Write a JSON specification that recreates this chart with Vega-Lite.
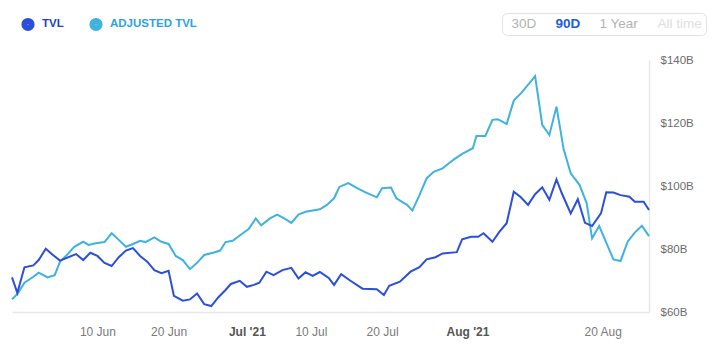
{
  "$schema": "https://vega.github.io/schema/vega-lite/v6.json",
  "width": 637,
  "height": 252,
  "autosize": {"type": "none"},
  "padding": {"left": 12, "top": 60, "right": 67, "bottom": 50},
  "background": "white",
  "config": {"view": {"stroke": null}, "font": "Liberation Sans"},
  "datasets": {
    "tvl": [
      {"date": "2021-05-29T00:00", "series": "ADJUSTED TVL", "value": 64.0},
      {"date": "2021-05-29T18:00", "series": "ADJUSTED TVL", "value": 65.7},
      {"date": "2021-05-30T18:00", "series": "ADJUSTED TVL", "value": 69.3},
      {"date": "2021-06-01T00:00", "series": "ADJUSTED TVL", "value": 71.2},
      {"date": "2021-06-01T18:00", "series": "ADJUSTED TVL", "value": 72.5},
      {"date": "2021-06-03T00:00", "series": "ADJUSTED TVL", "value": 71.0},
      {"date": "2021-06-04T00:00", "series": "ADJUSTED TVL", "value": 71.7},
      {"date": "2021-06-04T18:00", "series": "ADJUSTED TVL", "value": 76.0},
      {"date": "2021-06-05T12:00", "series": "ADJUSTED TVL", "value": 77.6},
      {"date": "2021-06-06T18:00", "series": "ADJUSTED TVL", "value": 80.7},
      {"date": "2021-06-08T00:00", "series": "ADJUSTED TVL", "value": 82.3},
      {"date": "2021-06-08T18:00", "series": "ADJUSTED TVL", "value": 81.3},
      {"date": "2021-06-09T18:00", "series": "ADJUSTED TVL", "value": 81.8},
      {"date": "2021-06-11T00:00", "series": "ADJUSTED TVL", "value": 82.2},
      {"date": "2021-06-12T00:00", "series": "ADJUSTED TVL", "value": 85.0},
      {"date": "2021-06-13T00:00", "series": "ADJUSTED TVL", "value": 82.9},
      {"date": "2021-06-14T00:00", "series": "ADJUSTED TVL", "value": 80.7},
      {"date": "2021-06-15T00:00", "series": "ADJUSTED TVL", "value": 81.6},
      {"date": "2021-06-16T00:00", "series": "ADJUSTED TVL", "value": 82.6},
      {"date": "2021-06-16T18:00", "series": "ADJUSTED TVL", "value": 82.2},
      {"date": "2021-06-18T00:00", "series": "ADJUSTED TVL", "value": 83.7},
      {"date": "2021-06-19T00:00", "series": "ADJUSTED TVL", "value": 82.3},
      {"date": "2021-06-20T00:00", "series": "ADJUSTED TVL", "value": 81.6},
      {"date": "2021-06-21T00:00", "series": "ADJUSTED TVL", "value": 77.8},
      {"date": "2021-06-22T00:00", "series": "ADJUSTED TVL", "value": 76.5},
      {"date": "2021-06-23T00:00", "series": "ADJUSTED TVL", "value": 73.6},
      {"date": "2021-06-24T00:00", "series": "ADJUSTED TVL", "value": 75.6},
      {"date": "2021-06-25T00:00", "series": "ADJUSTED TVL", "value": 78.1},
      {"date": "2021-06-26T06:00", "series": "ADJUSTED TVL", "value": 78.8},
      {"date": "2021-06-27T06:00", "series": "ADJUSTED TVL", "value": 79.5},
      {"date": "2021-06-28T00:00", "series": "ADJUSTED TVL", "value": 82.2},
      {"date": "2021-06-29T00:00", "series": "ADJUSTED TVL", "value": 82.6},
      {"date": "2021-06-30T00:00", "series": "ADJUSTED TVL", "value": 84.3},
      {"date": "2021-07-01T06:00", "series": "ADJUSTED TVL", "value": 86.3},
      {"date": "2021-07-02T06:00", "series": "ADJUSTED TVL", "value": 89.7},
      {"date": "2021-07-03T00:00", "series": "ADJUSTED TVL", "value": 87.5},
      {"date": "2021-07-04T06:00", "series": "ADJUSTED TVL", "value": 89.7},
      {"date": "2021-07-05T06:00", "series": "ADJUSTED TVL", "value": 90.9},
      {"date": "2021-07-06T06:00", "series": "ADJUSTED TVL", "value": 89.7},
      {"date": "2021-07-07T06:00", "series": "ADJUSTED TVL", "value": 88.3},
      {"date": "2021-07-08T06:00", "series": "ADJUSTED TVL", "value": 90.9},
      {"date": "2021-07-09T06:00", "series": "ADJUSTED TVL", "value": 91.8},
      {"date": "2021-07-11T06:00", "series": "ADJUSTED TVL", "value": 92.6},
      {"date": "2021-07-12T06:00", "series": "ADJUSTED TVL", "value": 94.0},
      {"date": "2021-07-13T06:00", "series": "ADJUSTED TVL", "value": 96.1},
      {"date": "2021-07-14T00:00", "series": "ADJUSTED TVL", "value": 99.7},
      {"date": "2021-07-15T06:00", "series": "ADJUSTED TVL", "value": 100.9},
      {"date": "2021-07-16T12:00", "series": "ADJUSTED TVL", "value": 99.3},
      {"date": "2021-07-17T18:00", "series": "ADJUSTED TVL", "value": 97.9},
      {"date": "2021-07-19T06:00", "series": "ADJUSTED TVL", "value": 96.4},
      {"date": "2021-07-20T00:00", "series": "ADJUSTED TVL", "value": 99.3},
      {"date": "2021-07-21T06:00", "series": "ADJUSTED TVL", "value": 99.5},
      {"date": "2021-07-22T00:00", "series": "ADJUSTED TVL", "value": 96.1},
      {"date": "2021-07-23T12:00", "series": "ADJUSTED TVL", "value": 94.0},
      {"date": "2021-07-24T06:00", "series": "ADJUSTED TVL", "value": 92.2},
      {"date": "2021-07-25T06:00", "series": "ADJUSTED TVL", "value": 97.1},
      {"date": "2021-07-26T06:00", "series": "ADJUSTED TVL", "value": 102.4},
      {"date": "2021-07-27T06:00", "series": "ADJUSTED TVL", "value": 104.5},
      {"date": "2021-07-28T12:00", "series": "ADJUSTED TVL", "value": 105.6},
      {"date": "2021-07-29T06:00", "series": "ADJUSTED TVL", "value": 107.0},
      {"date": "2021-07-30T06:00", "series": "ADJUSTED TVL", "value": 108.7},
      {"date": "2021-07-31T06:00", "series": "ADJUSTED TVL", "value": 110.2},
      {"date": "2021-08-01T18:00", "series": "ADJUSTED TVL", "value": 112.0},
      {"date": "2021-08-02T06:00", "series": "ADJUSTED TVL", "value": 115.9},
      {"date": "2021-08-03T12:00", "series": "ADJUSTED TVL", "value": 115.9},
      {"date": "2021-08-04T12:00", "series": "ADJUSTED TVL", "value": 121.0},
      {"date": "2021-08-05T06:00", "series": "ADJUSTED TVL", "value": 121.2},
      {"date": "2021-08-06T12:00", "series": "ADJUSTED TVL", "value": 119.7},
      {"date": "2021-08-07T12:00", "series": "ADJUSTED TVL", "value": 127.1},
      {"date": "2021-08-08T12:00", "series": "ADJUSTED TVL", "value": 129.4},
      {"date": "2021-08-09T12:00", "series": "ADJUSTED TVL", "value": 132.1},
      {"date": "2021-08-10T12:00", "series": "ADJUSTED TVL", "value": 134.9},
      {"date": "2021-08-11T12:00", "series": "ADJUSTED TVL", "value": 119.4},
      {"date": "2021-08-12T12:00", "series": "ADJUSTED TVL", "value": 116.2},
      {"date": "2021-08-13T12:00", "series": "ADJUSTED TVL", "value": 125.2},
      {"date": "2021-08-14T12:00", "series": "ADJUSTED TVL", "value": 111.7},
      {"date": "2021-08-15T12:00", "series": "ADJUSTED TVL", "value": 104.0},
      {"date": "2021-08-16T18:00", "series": "ADJUSTED TVL", "value": 100.3},
      {"date": "2021-08-17T18:00", "series": "ADJUSTED TVL", "value": 94.5},
      {"date": "2021-08-18T12:00", "series": "ADJUSTED TVL", "value": 83.4},
      {"date": "2021-08-19T12:00", "series": "ADJUSTED TVL", "value": 87.3},
      {"date": "2021-08-20T18:00", "series": "ADJUSTED TVL", "value": 80.7},
      {"date": "2021-08-21T12:00", "series": "ADJUSTED TVL", "value": 76.7},
      {"date": "2021-08-22T12:00", "series": "ADJUSTED TVL", "value": 76.2},
      {"date": "2021-08-23T12:00", "series": "ADJUSTED TVL", "value": 82.3},
      {"date": "2021-08-24T12:00", "series": "ADJUSTED TVL", "value": 85.2},
      {"date": "2021-08-25T12:00", "series": "ADJUSTED TVL", "value": 87.4},
      {"date": "2021-08-26T12:00", "series": "ADJUSTED TVL", "value": 84.1},
      {"date": "2021-05-29T00:00", "series": "TVL", "value": 71.0},
      {"date": "2021-05-29T18:00", "series": "TVL", "value": 66.1},
      {"date": "2021-05-30T18:00", "series": "TVL", "value": 74.2},
      {"date": "2021-06-01T00:00", "series": "TVL", "value": 74.8},
      {"date": "2021-06-01T18:00", "series": "TVL", "value": 76.5},
      {"date": "2021-06-02T18:00", "series": "TVL", "value": 80.1},
      {"date": "2021-06-03T18:00", "series": "TVL", "value": 78.1},
      {"date": "2021-06-04T18:00", "series": "TVL", "value": 76.3},
      {"date": "2021-06-07T00:00", "series": "TVL", "value": 78.4},
      {"date": "2021-06-08T00:00", "series": "TVL", "value": 76.5},
      {"date": "2021-06-09T00:00", "series": "TVL", "value": 78.8},
      {"date": "2021-06-10T00:00", "series": "TVL", "value": 77.8},
      {"date": "2021-06-11T00:00", "series": "TVL", "value": 75.6},
      {"date": "2021-06-12T00:00", "series": "TVL", "value": 74.6},
      {"date": "2021-06-13T00:00", "series": "TVL", "value": 77.4},
      {"date": "2021-06-14T00:00", "series": "TVL", "value": 79.5},
      {"date": "2021-06-15T00:00", "series": "TVL", "value": 80.3},
      {"date": "2021-06-16T00:00", "series": "TVL", "value": 77.8},
      {"date": "2021-06-17T00:00", "series": "TVL", "value": 76.0},
      {"date": "2021-06-18T00:00", "series": "TVL", "value": 73.3},
      {"date": "2021-06-19T00:00", "series": "TVL", "value": 72.3},
      {"date": "2021-06-20T00:00", "series": "TVL", "value": 73.1},
      {"date": "2021-06-20T18:00", "series": "TVL", "value": 65.1},
      {"date": "2021-06-22T00:00", "series": "TVL", "value": 63.6},
      {"date": "2021-06-23T00:00", "series": "TVL", "value": 64.0},
      {"date": "2021-06-24T00:00", "series": "TVL", "value": 65.9},
      {"date": "2021-06-25T00:00", "series": "TVL", "value": 62.5},
      {"date": "2021-06-26T00:00", "series": "TVL", "value": 61.9},
      {"date": "2021-06-27T00:00", "series": "TVL", "value": 64.7},
      {"date": "2021-06-28T00:00", "series": "TVL", "value": 67.0},
      {"date": "2021-06-28T18:00", "series": "TVL", "value": 68.9},
      {"date": "2021-06-30T00:00", "series": "TVL", "value": 69.9},
      {"date": "2021-07-01T00:00", "series": "TVL", "value": 68.0},
      {"date": "2021-07-02T00:00", "series": "TVL", "value": 68.6},
      {"date": "2021-07-02T18:00", "series": "TVL", "value": 69.3},
      {"date": "2021-07-03T18:00", "series": "TVL", "value": 72.8},
      {"date": "2021-07-04T18:00", "series": "TVL", "value": 71.7},
      {"date": "2021-07-06T00:00", "series": "TVL", "value": 73.3},
      {"date": "2021-07-07T06:00", "series": "TVL", "value": 74.0},
      {"date": "2021-07-08T06:00", "series": "TVL", "value": 70.6},
      {"date": "2021-07-09T06:00", "series": "TVL", "value": 72.6},
      {"date": "2021-07-10T06:00", "series": "TVL", "value": 71.5},
      {"date": "2021-07-11T06:00", "series": "TVL", "value": 72.7},
      {"date": "2021-07-12T12:00", "series": "TVL", "value": 70.8},
      {"date": "2021-07-13T06:00", "series": "TVL", "value": 68.6},
      {"date": "2021-07-14T06:00", "series": "TVL", "value": 72.0},
      {"date": "2021-07-15T12:00", "series": "TVL", "value": 70.0},
      {"date": "2021-07-17T06:00", "series": "TVL", "value": 67.4},
      {"date": "2021-07-19T06:00", "series": "TVL", "value": 67.2},
      {"date": "2021-07-20T06:00", "series": "TVL", "value": 65.4},
      {"date": "2021-07-21T00:00", "series": "TVL", "value": 68.3},
      {"date": "2021-07-22T12:00", "series": "TVL", "value": 69.6},
      {"date": "2021-07-24T00:00", "series": "TVL", "value": 72.8},
      {"date": "2021-07-25T06:00", "series": "TVL", "value": 74.2},
      {"date": "2021-07-26T06:00", "series": "TVL", "value": 76.7},
      {"date": "2021-07-27T12:00", "series": "TVL", "value": 77.4},
      {"date": "2021-07-28T12:00", "series": "TVL", "value": 78.6},
      {"date": "2021-07-30T12:00", "series": "TVL", "value": 79.0},
      {"date": "2021-07-31T06:00", "series": "TVL", "value": 83.1},
      {"date": "2021-08-01T12:00", "series": "TVL", "value": 83.9},
      {"date": "2021-08-02T12:00", "series": "TVL", "value": 83.9},
      {"date": "2021-08-03T06:00", "series": "TVL", "value": 85.0},
      {"date": "2021-08-04T12:00", "series": "TVL", "value": 82.3},
      {"date": "2021-08-05T12:00", "series": "TVL", "value": 85.5},
      {"date": "2021-08-06T12:00", "series": "TVL", "value": 88.2},
      {"date": "2021-08-07T12:00", "series": "TVL", "value": 98.2},
      {"date": "2021-08-08T12:00", "series": "TVL", "value": 96.4},
      {"date": "2021-08-09T12:00", "series": "TVL", "value": 94.0},
      {"date": "2021-08-10T12:00", "series": "TVL", "value": 97.4},
      {"date": "2021-08-11T12:00", "series": "TVL", "value": 99.6},
      {"date": "2021-08-12T12:00", "series": "TVL", "value": 95.6},
      {"date": "2021-08-13T12:00", "series": "TVL", "value": 102.1},
      {"date": "2021-08-14T06:00", "series": "TVL", "value": 97.7},
      {"date": "2021-08-15T12:00", "series": "TVL", "value": 91.3},
      {"date": "2021-08-16T12:00", "series": "TVL", "value": 95.8},
      {"date": "2021-08-17T12:00", "series": "TVL", "value": 88.3},
      {"date": "2021-08-18T12:00", "series": "TVL", "value": 87.3},
      {"date": "2021-08-19T18:00", "series": "TVL", "value": 91.3},
      {"date": "2021-08-20T12:00", "series": "TVL", "value": 98.0},
      {"date": "2021-08-21T12:00", "series": "TVL", "value": 97.9},
      {"date": "2021-08-22T12:00", "series": "TVL", "value": 97.1},
      {"date": "2021-08-23T18:00", "series": "TVL", "value": 96.6},
      {"date": "2021-08-24T12:00", "series": "TVL", "value": 95.0},
      {"date": "2021-08-25T18:00", "series": "TVL", "value": 95.0},
      {"date": "2021-08-26T12:00", "series": "TVL", "value": 92.4}
    ],
    "ranges": [
      {"range": "30D"},
      {"range": "90D"},
      {"range": "1 Year"},
      {"range": "All time"}
    ]
  },
  "layer": [
    {
      "data": {"name": "tvl"},
      "mark": {"type": "line", "strokeWidth": 2},
      "encoding": {
        "x": {
          "field": "date",
          "type": "temporal",
          "scale": {"nice": false},
          "axis": {
            "values": [
              {"year": 2021, "month": 6, "date": 10},
              {"year": 2021, "month": 6, "date": 20},
              {"year": 2021, "month": 7, "date": 1},
              {"year": 2021, "month": 7, "date": 10},
              {"year": 2021, "month": 7, "date": 20},
              {"year": 2021, "month": 8, "date": 1},
              {"year": 2021, "month": 8, "date": 20}
            ],
            "labelExpr": "date(datum.value) == 1 ? timeFormat(datum.value, \"%b '%y\") : timeFormat(datum.value, '%-d %b')",
            "title": null,
            "grid": false,
            "ticks": false,
            "domainColor": "#e8e8e8",
            "domainWidth": 1.5,
            "labelPadding": 14,
            "labelFontSize": 12,
            "labelFont": "Liberation Sans",
            "labelColor": {"condition": {"test": "date(datum.value) == 1", "value": "#555555"}, "value": "#7a7a7a"},
            "labelFontWeight": {"condition": {"test": "date(datum.value) == 1", "value": "bold"}, "value": "normal"},
            "labelOverlap": false,
            "labelFlush": false
          }
        },
        "y": {
          "field": "value",
          "type": "quantitative",
          "scale": {"domain": [60, 140], "nice": false, "zero": false},
          "axis": {
            "orient": "right",
            "values": [60, 80, 100, 120, 140],
            "labelExpr": "'$' + datum.value + 'B'",
            "title": null,
            "grid": false,
            "ticks": false,
            "domainColor": "#e8e8e8",
            "domainWidth": 1.5,
            "labelPadding": 11,
            "labelFontSize": 11.5,
            "labelFont": "Liberation Sans",
            "labelColor": "#6b6b6b"
          }
        },
        "color": {
          "field": "series",
          "type": "nominal",
          "scale": {"domain": ["TVL", "ADJUSTED TVL"], "range": ["#2b4fd8", "#3fb2de"]},
          "legend": {
            "title": null,
            "orient": "none",
            "legendX": 9,
            "legendY": -43,
            "direction": "horizontal",
            "symbolType": "circle",
            "symbolSize": 38,
            "symbolStrokeWidth": 7,
            "labelFont": "Liberation Sans",
            "labelFontSize": 11.5,
            "labelFontWeight": "bold",
            "labelColor": {"expr": "datum.label == 'TVL' ? '#2141c4' : '#2ea2dd'"},
            "labelOffset": 7,
            "columnPadding": 14,
            "padding": 0
          }
        }
      }
    },
    {
      "data": {"name": "ranges"},
      "mark": {"type": "point", "opacity": 0},
      "encoding": {
        "shape": {
          "field": "range",
          "type": "nominal",
          "scale": {"domain": ["30D", "90D", "1 Year", "All time"]},
          "legend": {
            "title": null,
            "orient": "none",
            "legendX": 490,
            "legendY": -47,
            "direction": "horizontal",
            "symbolSize": 36,
            "symbolOpacity": 0,
            "labelOffset": -8,
            "columnPadding": 13,
            "padding": 4,
            "strokeColor": "#e2e2e2",
            "fillColor": "white",
            "cornerRadius": 5,
            "labelFont": "Liberation Sans",
            "labelFontSize": 13.5,
            "labelFontWeight": {"expr": "datum.label == '90D' ? 'bold' : 'normal'"},
            "labelColor": {"expr": "datum.label == '90D' ? '#1d5ed6' : datum.label == 'All time' ? '#e0e0e0' : '#b3b3b3'"}
          }
        }
      }
    }
  ]
}
